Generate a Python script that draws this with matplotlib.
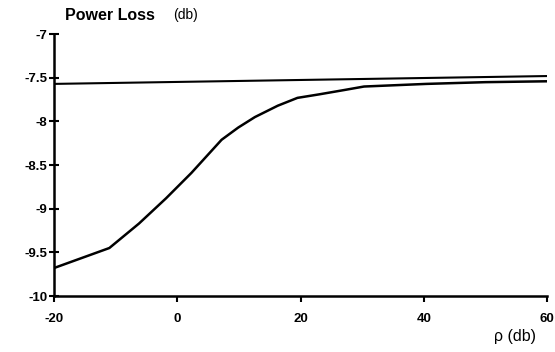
import matplotlib
matplotlib.use("Agg")
import matplotlib.pyplot as plt

plt.rcParams["font.family"] = ["Liberation Sans", "DejaVu Sans"]

# Curve
rho = [-20, -11, -6.2, -1.8, 2.3, 7.2, 9.9, 12.6, 16.3, 19.5, 23.0, 27.1, 30.3, 40.4, 50.0, 60.0]
loss = [-9.68, -9.45, -9.17, -8.88, -8.59, -8.21, -8.07, -7.95, -7.82, -7.73, -7.69, -7.64, -7.60, -7.57, -7.55, -7.54]

# Reference (asymptote) line, slightly tilted in the scan
ref_x = [-20, 60]
ref_y = [-7.57, -7.48]

xticks = [-20, 0, 20, 40, 60]
yticks = [-7, -7.5, -8, -8.5, -9, -9.5, -10]
ytick_labels = ["-7", "-7.5", "-8", "-8.5", "-9", "-9.5", "-10"]

fig = plt.figure(figsize=(5.55, 3.52), dpi=100)
ax = fig.add_axes([0.097, 0.159, 0.889, 0.744])

ax.plot(ref_x, ref_y, color="black", lw=1.5)
ax.plot(rho, loss, color="black", lw=1.8)

ax.set_xlim(-20, 60)
ax.set_ylim(-10, -7)
ax.set_xticks(xticks)
ax.set_xticklabels([str(t) for t in xticks])
ax.set_yticks(yticks)
ax.set_yticklabels(ytick_labels)

for s in ["top", "right"]:
    ax.spines[s].set_visible(False)
for s in ["left", "bottom"]:
    ax.spines[s].set_linewidth(1.8)

ax.tick_params(axis="y", direction="inout", length=7, width=1.5, labelsize=9.5, pad=1)
ax.tick_params(axis="x", direction="out", length=4, width=1.5, labelsize=9.5, pad=8)
for lbl in ax.get_xticklabels() + ax.get_yticklabels():
    lbl.set_fontweight("bold")

fig.text(0.118, 0.955, "Power Loss", fontsize=11.5, fontweight="bold", ha="left", va="center")
fig.text(0.312, 0.958, "(db)", fontsize=10, ha="left", va="center")
fig.text(0.89, 0.045, "ρ (db)", fontsize=11.5, ha="left", va="center")

fig.savefig("out.png", dpi=100, facecolor="white")
